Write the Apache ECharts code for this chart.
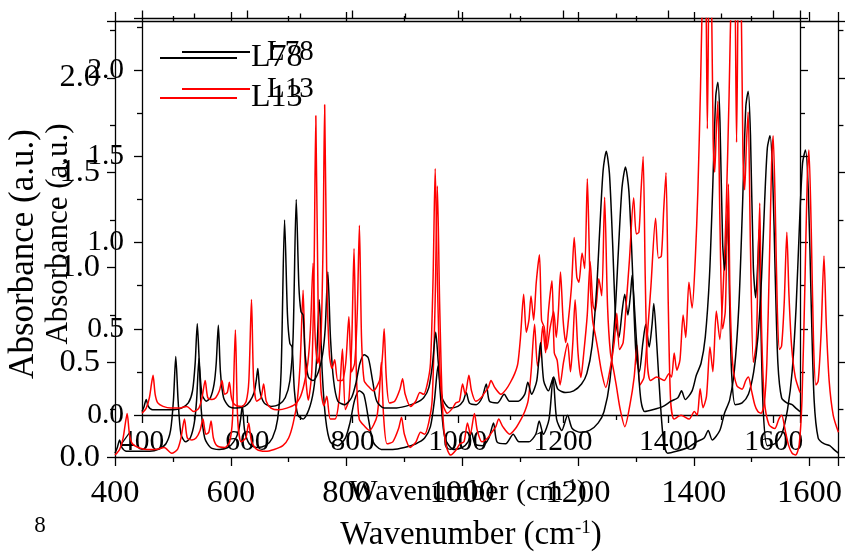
<!DOCTYPE html>
<html>
<head>
<meta charset="utf-8">
<script src="https://cdn.jsdelivr.net/npm/echarts@6/dist/echarts.min.js"></script>
<style>
html,body{margin:0;padding:0;background:#fff;}
#chart{width:845px;height:556px;}
</style>
</head>
<body>
<div id="chart"></div>
<script>
// ---- data ----
const seriesNames = ['L78', 'L13'];
const xTickValues = [400, 600, 800, 1000, 1200, 1400, 1600];
const yTickValues = [0.0, 0.5, 1.0, 1.5, 2.0];

const l78Wn = [400,404,408,412,420,440,460,475,488,496,501,505,509,514,522,530,537,541,545,549,555,565,580,595,605,613,617,620,624,632,645,660,672,681,687,693,698,702,706,710,716,725,735,743,748,753,758,764,772,785,798,806,814,822,830,838,846,860,880,900,920,935,945,952,958,963,970,985,1000,1010,1016,1022,1035,1046,1054,1060,1075,1088,1098,1115,1127,1133,1140,1150,1157,1163,1172,1182,1190,1205,1220,1235,1245,1255,1264,1270,1276,1282,1288,1294,1300,1306,1312,1317,1323,1328,1331,1336,1342,1348,1355,1370,1390,1405,1418,1425,1432,1445,1453,1462,1470,1478,1484,1490,1494,1498,1503,1507,1511,1513,1516,1520,1527,1540,1552,1562,1570,1577,1583,1588,1593,1598,1603,1608,1615,1625,1635,1642,1650];
const l78Abs = [0.02,0.05,0.09,0.05,0.03,0.03,0.03,0.04,0.07,0.14,0.30,0.53,0.30,0.12,0.08,0.10,0.18,0.30,0.52,0.25,0.10,0.05,0.04,0.05,0.08,0.13,0.20,0.27,0.14,0.07,0.05,0.06,0.10,0.20,0.45,1.25,0.75,0.60,0.58,0.35,0.22,0.20,0.25,0.35,0.50,0.83,0.45,0.20,0.08,0.06,0.10,0.18,0.30,0.35,0.33,0.20,0.08,0.04,0.04,0.05,0.07,0.10,0.16,0.30,0.48,0.30,0.10,0.04,0.05,0.08,0.13,0.07,0.06,0.10,0.18,0.08,0.07,0.12,0.08,0.08,0.12,0.19,0.12,0.20,0.42,0.20,0.14,0.22,0.15,0.13,0.14,0.18,0.24,0.40,0.75,1.10,1.42,1.53,1.40,1.00,0.55,0.45,0.60,0.70,0.58,0.70,0.81,0.60,0.30,0.08,0.02,0.03,0.05,0.08,0.10,0.14,0.09,0.14,0.23,0.30,0.45,0.80,1.30,1.85,1.93,1.70,1.00,0.84,1.05,1.20,0.70,0.25,0.06,0.07,0.12,0.25,0.45,0.80,1.25,1.55,1.62,1.40,0.80,0.30,0.10,0.07,0.06,0.04,0.02];

const l13Wn = [400,408,414,418,421,425,430,440,455,470,485,498,508,514,520,525,533,540,547,552,557,562,566,570,576,590,598,603,608,612,618,626,631,636,645,660,675,690,700,708,715,720,725,729,734,740,744,747,751,756,761,766,772,780,787,793,798,804,809,813,817,822,832,840,847,853,857,860,864,870,880,890,895,900,910,920,928,935,942,948,953,957,961,966,972,980,990,996,1003,1009,1014,1021,1026,1034,1044,1051,1058,1063,1070,1082,1092,1100,1108,1114,1119,1125,1130,1135,1139,1144,1149,1155,1159,1164,1169,1175,1182,1187,1191,1195,1200,1205,1210,1216,1221,1226,1230,1236,1241,1246,1251,1256,1262,1266,1273,1281,1290,1297,1302,1307,1314,1320,1326,1334,1339,1344,1348,1352,1356,1360,1366,1378,1392,1401,1406,1411,1416,1422,1428,1433,1439,1445,1451,1456,1461,1466,1470,1474,1478,1482,1485,1488,1491,1494,1498,1503,1508,1511,1514,1517,1522,1530,1540,1547,1552,1558,1564,1570,1576,1582,1587,1592,1596,1599,1603,1607,1611,1615,1620,1625,1629,1634,1641,1650];
const l13Abs = [0.01,0.04,0.10,0.18,0.23,0.12,0.07,0.05,0.04,0.04,0.05,0.02,0.04,0.10,0.20,0.10,0.09,0.10,0.14,0.20,0.12,0.13,0.19,0.10,0.06,0.05,0.08,0.20,0.67,0.20,0.08,0.10,0.18,0.08,0.04,0.03,0.04,0.06,0.10,0.18,0.30,0.50,0.88,0.45,0.30,0.45,1.00,1.80,0.80,0.35,0.27,0.32,0.20,0.20,0.30,0.57,0.25,0.30,0.60,1.10,0.45,0.20,0.16,0.14,0.17,0.22,0.35,0.50,0.22,0.07,0.08,0.15,0.21,0.12,0.05,0.08,0.13,0.12,0.18,0.30,0.80,1.43,0.80,0.25,0.06,0.01,0.04,0.07,0.08,0.18,0.12,0.23,0.14,0.08,0.10,0.13,0.16,0.20,0.16,0.12,0.15,0.19,0.24,0.30,0.45,0.70,0.48,0.55,0.69,0.55,0.77,0.93,0.55,0.51,0.38,0.50,0.60,0.45,0.60,0.83,0.55,0.42,0.55,0.75,1.03,0.80,0.77,0.94,0.85,1.37,0.80,0.55,0.45,0.38,0.25,0.16,0.28,0.42,0.59,0.38,0.42,0.65,0.90,1.26,1.05,1.06,1.30,1.50,0.80,0.30,0.20,0.22,0.20,0.24,0.22,0.36,0.26,0.32,0.58,0.45,0.77,0.62,0.90,1.30,1.90,2.60,2.70,1.66,2.70,2.40,1.60,1.41,1.65,1.82,1.10,0.50,0.60,1.00,1.34,0.70,0.30,0.17,0.15,0.20,0.22,0.14,0.06,0.02,0.01,0.06,0.30,0.90,1.45,1.62,1.20,0.60,0.38,0.40,0.65,1.06,0.70,0.40,0.22,0.13];

// ---- build ----
const pairs = (wn, ab) => wn.map((w, i) => [w, ab[i]]);
const l78 = pairs(l78Wn, l78Abs);
const l13 = pairs(l13Wn, l13Abs);

const FONT = 'Liberation Serif';
const xFmt = v => (xTickValues.indexOf(Math.round(v)) >= 0 ? String(Math.round(v)) : '');
const yFmt = v => (yTickValues.some(t => Math.abs(t - v) < 1e-6) ? v.toFixed(1) : '');

function xAxisDef(grid, pos, fs, margin, tl, ml, labels) {
  return {
    type: 'value', gridIndex: grid, position: pos, min: 400, max: 1650, interval: 200,
    axisLine: {show: true, onZero: false, lineStyle: {color: '#000', width: 1.3}},
    axisTick: {show: true, inside: false, length: tl, lineStyle: {color: '#000', width: 1.3}},
    minorTick: {show: true, splitNumber: 2, length: ml, lineStyle: {color: '#000', width: 1.3}},
    splitLine: {show: false}, minorSplitLine: {show: false},
    axisLabel: {show: labels, formatter: xFmt, fontFamily: FONT, fontSize: fs, color: '#000', margin: margin}
  };
}
function yAxisDef(grid, pos, fs, margin, tl, ml, labels) {
  return {
    type: 'value', gridIndex: grid, position: pos, min: 0, max: 2.3, interval: 0.5,
    axisLine: {show: true, onZero: false, lineStyle: {color: '#000', width: 1.3}},
    axisTick: {show: true, inside: false, length: tl, lineStyle: {color: '#000', width: 1.3}},
    minorTick: {show: true, splitNumber: 2, length: ml, lineStyle: {color: '#000', width: 1.3}},
    splitLine: {show: false}, minorSplitLine: {show: false},
    axisLabel: {show: labels, formatter: yFmt, fontFamily: FONT, fontSize: fs, color: '#000', margin: margin}
  };
}
function lineSeries(name, data, color, xi, yi) {
  return {
    name: name, type: 'line', data: data, xAxisIndex: xi, yAxisIndex: yi,
    showSymbol: false, symbol: 'none', smooth: 0.25, clip: true, animation: false,
    lineStyle: {color: color, width: 1.5}, itemStyle: {color: color}
  };
}

const chart = echarts.init(document.getElementById('chart'), null, {renderer: 'canvas'});
chart.setOption({
  animation: false,
  backgroundColor: '#fff',
  grid: [
    {left: 115, top: 21, width: 727, height: 436},
    {left: 142, top: 18.5, width: 658, height: 396.5}
  ],
  xAxis: [
    xAxisDef(0, 'bottom', 32.5, 20, 9, 5, true),
    xAxisDef(0, 'top', 32.5, 20, 9, 5, false),
    xAxisDef(1, 'bottom', 29.5, 12, 8, 5, true),
    xAxisDef(1, 'top', 29.5, 12, 8, 5, false)
  ],
  yAxis: [
    yAxisDef(0, 'left', 32.5, 15, 8, 5, true),
    yAxisDef(0, 'right', 32.5, 15, 8, 5, false),
    yAxisDef(1, 'left', 29.5, 18, 8, 5, true),
    yAxisDef(1, 'right', 29.5, 18, 8, 5, false)
  ],
  legend: [
    {data: seriesNames, orient: 'vertical', left: 160, top: 42, padding: 0, itemGap: 8,
     itemWidth: 77, itemHeight: 2, icon: 'rect', selectedMode: false,
     textStyle: {fontFamily: FONT, fontSize: 32, lineHeight: 32, color: '#000', padding: [0, 0, 0, 9]}},
    {data: seriesNames, orient: 'vertical', left: 182, top: 37.5, padding: 0, itemGap: 8,
     itemWidth: 68, itemHeight: 2, icon: 'rect', selectedMode: false,
     textStyle: {fontFamily: FONT, fontSize: 29, lineHeight: 29, color: '#000', padding: [0, 0, 0, 12]}}
  ],
  series: [
    lineSeries(seriesNames[0], l78, '#000000', 0, 0),
    lineSeries(seriesNames[1], l13, '#ff0000', 0, 0),
    lineSeries(seriesNames[0], l78, '#000000', 2, 2),
    lineSeries(seriesNames[1], l13, '#ff0000', 2, 2)
  ],
  graphic: [
    {type: 'text', x: 24, y: 254, rotation: Math.PI / 2,
     style: {text: 'Absorbance (a.u.)', fontFamily: FONT, fontSize: 35, fill: '#000', align: 'center', verticalAlign: 'middle'}},
    {type: 'text', x: 59, y: 234, rotation: Math.PI / 2,
     style: {text: 'Absorbance (a.u.)', fontFamily: FONT, fontSize: 31, fill: '#000', align: 'center', verticalAlign: 'middle'}},
    {type: 'text', x: 471, y: 535,
     style: {text: 'Wavenumber (cm{sup|-1})', fontFamily: FONT, fontSize: 33, lineHeight: 33, fill: '#000', align: 'center', verticalAlign: 'middle',
       rich: {sup: {fontFamily: FONT, fontSize: 19, lineHeight: 17, verticalAlign: 'top', fill: '#000'}}}},
    {type: 'text', x: 468, y: 492,
     style: {text: 'Wavenumber (cm{sup|-1})', fontFamily: FONT, fontSize: 30, lineHeight: 30, fill: '#000', align: 'center', verticalAlign: 'middle',
       rich: {sup: {fontFamily: FONT, fontSize: 17, lineHeight: 15, verticalAlign: 'top', fill: '#000'}}}},
    {type: 'text', x: 40, y: 526,
     style: {text: '8', fontFamily: FONT, fontSize: 23, fill: '#000', align: 'center', verticalAlign: 'middle'}}
  ]
});
</script>
</body>
</html>
